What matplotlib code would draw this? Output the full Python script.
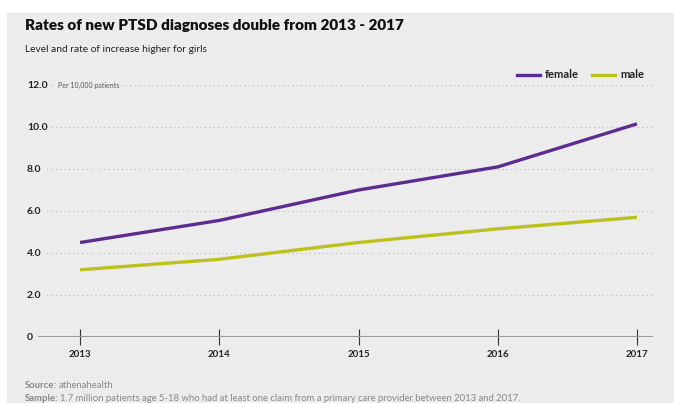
import matplotlib
matplotlib.use('Agg')
import matplotlib.pyplot as plt
from matplotlib.patches import Rectangle
import matplotlib.transforms as mtransforms

years = [2013, 2014, 2015, 2016, 2017]
female = [4.5, 5.55, 7.0, 8.1, 10.15]
male = [3.2, 3.7, 4.5, 5.15, 5.7]
y_ticks = [0, 2, 4, 6, 8, 10, 12]
y_labels = ['0', '2.0', '4.0', '6.0', '8.0', '10.0', '12.0']

bg = '#ececec'
purple = '#5c2d8f'
olive = '#bcc11c'

plt.rcParams['font.family'] = ['Lato', 'DejaVu Sans']

fig = plt.figure(figsize=(6.74, 4.03), dpi=100)
fig.patch.set_facecolor('white')
fig.patches.append(Rectangle((7 / 674, 0), 1, 1 - 13 / 403, transform=fig.transFigure,
                             facecolor=bg, edgecolor='none', zorder=-10))

ax = fig.add_axes([38 / 674, 66 / 403, 615 / 674, 252 / 403])
ax.set_facecolor('none')
ax.set_xlim(2012.698, 2017.115)
ax.set_ylim(0, 12)
for s in ax.spines.values():
    s.set_visible(False)
ax.set_yticks([])
ax.set_xticks(years)
ax.set_xticklabels([str(y) for y in years], fontsize=7, fontweight='bold', color='#222')
ax.tick_params(axis='x', direction='inout', length=11, width=0.8, color='#333', pad=4)
ax.axhline(0, color='#999999', lw=1.5, zorder=2)

# dotted gridlines and y labels
trans = mtransforms.blended_transform_factory(fig.transFigure, ax.transData)
for v, lab in zip(y_ticks, y_labels):
    if v > 0:
        ax.axhline(v, color='#bdbdbd', lw=0.9, ls=(0, (1, 2.5)), zorder=1)
    ax.text(27 / 674, v, lab, transform=trans, ha='left', va='center', fontsize=7.5,
            fontweight='bold', color='#222', zorder=3,
            bbox=dict(facecolor=bg, edgecolor='none', pad=1.5))
ax.text(58 / 674, 12, 'Per 10,000 patients', transform=trans, ha='left', va='center',
        fontsize=5, color='#555', zorder=3, bbox=dict(facecolor=bg, edgecolor='none', pad=1.5))

ax.plot(years, female, color=purple, lw=2.4, solid_capstyle='butt', zorder=4)
ax.plot(years, male, color=olive, lw=2.4, solid_capstyle='butt', zorder=4)

# legend
fig.lines.append(plt.Line2D([517 / 674, 540 / 674], [1 - 75 / 403] * 2, color=purple, lw=2.4,
                            transform=fig.transFigure))
fig.text(545 / 674, 1 - 75 / 403, 'female', fontsize=8, fontweight='bold', va='center', color='#222')
fig.lines.append(plt.Line2D([592 / 674, 615 / 674], [1 - 75 / 403] * 2, color=olive, lw=2.4,
                            transform=fig.transFigure))
fig.text(620 / 674, 1 - 75 / 403, 'male', fontsize=8, fontweight='bold', va='center', color='#222')

fig.text(25 / 674, 1 - 25 / 403, 'Rates of new PTSD diagnoses double from 2013 - 2017',
         fontsize=11, fontweight='heavy', va='center', color='#111')
fig.text(25 / 674, 1 - 49 / 403, 'Level and rate of increase higher for girls',
         fontsize=7.3, va='center', color='#222')

src = fig.text(25 / 674, 1 - 386 / 403, 'Source:', fontsize=6.8, fontweight='bold',
               va='center', color='#888')
fig.canvas.draw()
w = src.get_window_extent().width / 674
fig.text(25 / 674 + w + 2 / 674, 1 - 386 / 403, 'athenahealth', fontsize=6.8, va='center', color='#888')
smp = fig.text(25 / 674, 1 - 398.5 / 403, 'Sample:', fontsize=6.8, fontweight='bold',
               va='center', color='#888')
fig.canvas.draw()
w = smp.get_window_extent().width / 674
fig.text(25 / 674 + w + 2 / 674, 1 - 398.5 / 403,
         '1.7 million patients age 5-18 who had at least one claim from a primary care provider between 2013 and 2017.',
         fontsize=6.8, va='center', color='#888')

fig.savefig('out.png', dpi=100, facecolor=fig.get_facecolor())
